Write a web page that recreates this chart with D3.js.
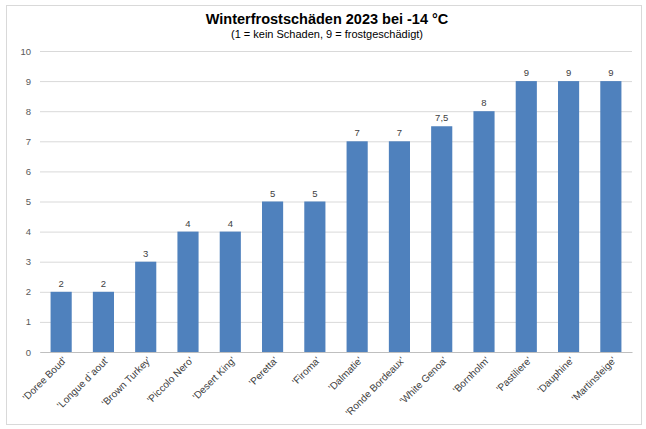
<!DOCTYPE html>
<html>
<head>
<meta charset="utf-8">
<script src="https://cdn.jsdelivr.net/npm/d3@7"></script>
<style>
  body { margin: 0; background: #fff; }
  text { font-family: "Liberation Sans", Arial, sans-serif; }
</style>
</head>
<body>
<div id="G"></div>
<script>
var sorten = ["'Doree Boud'", "'Longue d`aout'", "'Brown Turkey'", "'Piccolo Nero'", "'Desert King'",
  "'Peretta'", "'Firoma'", "'Dalmatie'", "'Ronde Bordeaux'", "'White Genoa'", "'Bornholm'",
  "'Pastiliere'", "'Dauphine'", "'Martinsfeige'"];
var schaden = [2, 2, 3, 4, 4, 5, 5, 7, 7, 7.5, 8, 9, 9, 9];
var yTicks = [0, 1, 2, 3, 4, 5, 6, 7, 8, 9, 10];

var W = 646, H = 429;
var Border = { top: 51, right: 14, bottom: 77, left: 40 },
  width = W - Border.left - Border.right,
  height = H - Border.top - Border.bottom;

var svg = d3.select("#G").append("svg")
  .attr("width", W).attr("height", H);

// chart frame
svg.append("rect")
  .attr("x", 6.5).attr("y", 5.5)
  .attr("width", 635).attr("height", 419)
  .attr("fill", "#fff").attr("stroke", "#d9d9d9");

svg.append("text")
  .attr("x", W / 2 + 4).attr("y", 24)
  .attr("text-anchor", "middle")
  .attr("font-size", 14.5).attr("font-weight", "bold")
  .text("Winterfrostschäden 2023 bei -14 °C");
svg.append("text")
  .attr("x", W / 2 + 4).attr("y", 38)
  .attr("text-anchor", "middle")
  .attr("font-size", 11)
  .text("(1 = kein Schaden, 9 = frostgeschädigt)");

var g = svg.append("g")
  .attr("transform", "translate(" + Border.left + "," + Border.top + ")");

var x = d3.scaleBand().domain(sorten).range([0, width]).paddingInner(0.5).paddingOuter(0.25);
var y = d3.scaleLinear().domain([0, 10]).range([height, 0]);

// grid
g.append("g")
  .call(d3.axisLeft(y).tickValues(yTicks).tickSize(-width).tickPadding(9))
  .call(a => a.select(".domain").remove())
  .call(a => a.selectAll("line").attr("stroke", "#d9d9d9"))
  .call(a => a.selectAll("text").attr("font-size", 9.5).attr("fill", "#595959")
    .attr("font-family", "Liberation Sans, Arial, sans-serif"));

g.selectAll(".bar").data(sorten).enter().append("rect")
  .attr("x", d => x(d))
  .attr("width", x.bandwidth())
  .attr("y", (d, i) => y(schaden[i]))
  .attr("height", (d, i) => height - y(schaden[i]))
  .attr("fill", "#4f81bd");

g.selectAll(".lbl").data(sorten).enter().append("text")
  .attr("x", d => x(d) + x.bandwidth() / 2)
  .attr("y", (d, i) => y(schaden[i]) - 5)
  .attr("text-anchor", "middle")
  .attr("font-size", 9.5).attr("fill", "#404040")
  .text((d, i) => String(schaden[i]).replace(".", ","));

// x axis
var xa = g.append("g")
  .attr("transform", "translate(0," + height + ")")
  .call(d3.axisBottom(x).tickSize(0).tickPadding(0));
xa.select(".domain").attr("stroke", "#bfbfbf");
xa.selectAll("text")
  .attr("font-size", 10).attr("fill", "#404040")
  .attr("font-family", "Liberation Sans, Arial, sans-serif")
  .attr("text-anchor", "end")
  .attr("dy", 0)
  .attr("transform", "translate(6,9) rotate(-45)");
</script>
</body>
</html>
